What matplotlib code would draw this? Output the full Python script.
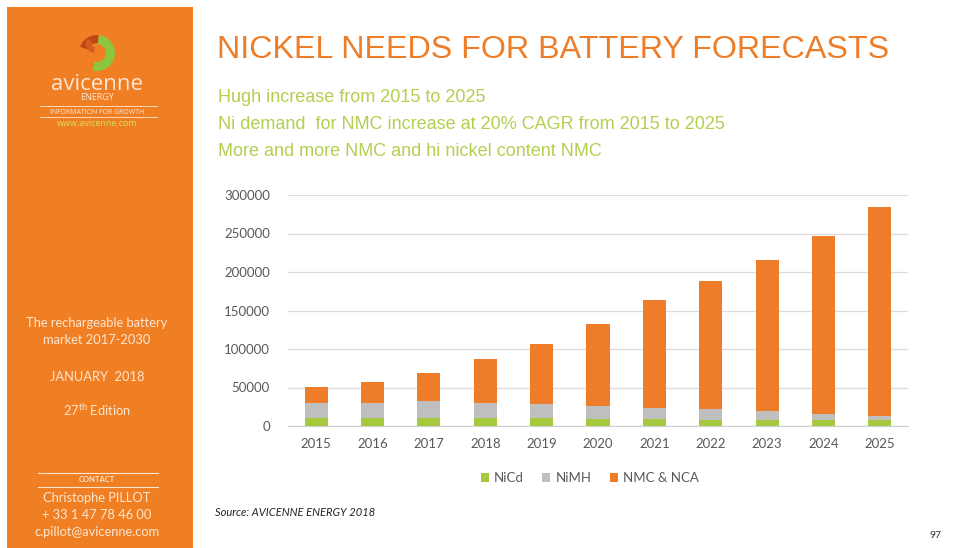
import matplotlib.pyplot as plt
from matplotlib.patches import Rectangle, Wedge
import numpy as np

# 数据
years = ['2015', '2016', '2017', '2018', '2019', '2020', '2021', '2022', '2023', '2024', '2025']
nicd = [11000, 11000, 11000, 10000, 10000, 9000, 9000, 8000, 8000, 7500, 7500]
nimh = [18500, 19000, 21000, 19500, 18000, 17000, 14000, 13500, 11500, 8500, 6000]
nmc_nca = [21500, 27000, 37000, 57000, 79000, 106000, 140000, 167000, 196000, 231000, 270500]
series_names = ['NiCd', 'NiMH', 'NMC & NCA']
y_ticks = [0, 50000, 100000, 150000, 200000, 250000, 300000]

# 颜色
c_orange = '#EE7D2A'
c_panel = '#F07F24'
c_green = '#A4C93C'
c_gray = '#BFBFBF'
c_sub = '#B3CF4F'
c_tick = '#595959'
c_panel_text = '#FCE6D2'

W, H = 957, 548
fig = plt.figure(figsize=(W / 100, H / 100), dpi=100)

# 背景层（像素坐标）
bg = fig.add_axes([0, 0, 1, 1])
bg.set_xlim(0, W)
bg.set_ylim(H, 0)
bg.axis('off')

# 左侧橙色栏
bg.add_patch(Rectangle((7, 7), 186, H - 7, facecolor=c_panel, edgecolor='none'))

# logo
bg.add_patch(Wedge((97, 53), 18, -85, 105, width=9, facecolor='#8CC63F', edgecolor='none'))
bg.add_patch(Wedge((97, 53), 18, 200, 275, width=8, facecolor='#C0461A', edgecolor='none'))
bg.add_patch(Wedge((95, 44), 9, 95, 215, width=6, facecolor='#D85A1E', edgecolor='none'))
bg.text(97, 84, 'avicenne', fontsize=16, color=c_panel_text, ha='center', va='center',
        family='Open Sans')
bg.text(97, 98, 'ENERGY', fontsize=6.5, color=c_panel_text, ha='center', va='center',
        family='Open Sans')
bg.plot([40, 157], [106, 106], color=c_panel_text, lw=0.6)
bg.text(97, 112, 'INFORMATION FOR GROWTH', fontsize=5, color=c_panel_text, ha='center',
        va='center', family='Open Sans')
bg.plot([40, 157], [117, 117], color=c_panel_text, lw=0.6)
bg.text(97, 124, 'www.avicenne.com', fontsize=6.5, color='#D4E157', ha='center', va='center',
        family='Open Sans')

# 左侧说明
pt = dict(color=c_panel_text, ha='center', va='center', family='Lato', fontsize=9.3)
bg.text(97, 323, 'The rechargeable battery', **pt)
bg.text(97, 340, 'market 2017-2030', **pt)
bg.text(97, 377, 'JANUARY  2018', **pt)
bg.text(97, 410, r'27$^{\mathregular{th}}$ Edition', **pt)
bg.plot([38, 158], [473, 473], color=c_panel_text, lw=0.8)
bg.text(97, 480, 'CONTACT', color=c_panel_text, ha='center', va='center', family='Lato',
        fontsize=5.5, fontweight='bold')
bg.plot([38, 158], [487, 487], color=c_panel_text, lw=0.8)
bg.text(97, 498, 'Christophe PILLOT', **pt)
bg.text(97, 515, '+ 33 1 47 78 46 00', **pt)
bg.text(97, 532, 'c.pillot@avicenne.com', **pt)

# 标题
bg.text(217, 50, 'NICKEL NEEDS FOR BATTERY FORECASTS', fontsize=23.2, color=c_orange,
        ha='left', va='center', family='Liberation Sans')
subs = ['Hugh increase from 2015 to 2025',
        'Ni demand  for NMC increase at 20% CAGR from 2015 to 2025',
        'More and more NMC and hi nickel content NMC']
for i, s in enumerate(subs):
    bg.text(218, 98 + i * 26.5, s, fontsize=13, color=c_sub, ha='left', va='center',
            family='Liberation Sans')

bg.text(215, 513, 'Source: AVICENNE ENERGY 2018', fontsize=8, style='italic', color='#222222',
        ha='left', va='center', family='Lato')
bg.text(935, 535, '97', fontsize=7.5, color='#333333', ha='center', va='center', family='Lato')

# 图表
ax = fig.add_axes([288 / W, 1 - 426 / H, 620 / W, 231 / H])
ax.set_facecolor('none')
x = np.arange(len(years))
b1 = ax.bar(x, nicd, width=0.41, color=c_green, label=series_names[0], zorder=3)
b2 = ax.bar(x, nimh, width=0.41, bottom=nicd, color=c_gray, label=series_names[1], zorder=3)
base = np.array(nicd) + np.array(nimh)
b3 = ax.bar(x, nmc_nca, width=0.41, bottom=base, color=c_orange, label=series_names[2], zorder=3)

ax.set_xlim(-0.5, len(years) - 0.5)
ax.set_ylim(0, 300000)
ax.set_yticks(y_ticks)
ax.set_yticklabels([str(v) for v in y_ticks])
ax.set_xticks(x)
ax.set_xticklabels(years)
ax.grid(axis='y', color='#DDDDDD', lw=0.9, zorder=0)
for s in ['top', 'right', 'left']:
    ax.spines[s].set_visible(False)
ax.spines['bottom'].set_color('#D0D0D0')
ax.tick_params(axis='both', length=0, colors=c_tick, labelsize=9.5)
ax.tick_params(axis='y', pad=13)
ax.tick_params(axis='x', pad=9)
for lab in ax.get_xticklabels() + ax.get_yticklabels():
    lab.set_family('Lato')

fig.legend(handles=[b1, b2, b3], loc='center', bbox_to_anchor=(590 / W, 1 - 478 / H),
           ncol=3, frameon=False, handlelength=0.6, handleheight=0.6, handletextpad=0.4,
           columnspacing=1.4, prop={'family': 'Lato', 'size': 9.5}, labelcolor=c_tick)

fig.savefig('out.png', dpi=100, facecolor='white')
